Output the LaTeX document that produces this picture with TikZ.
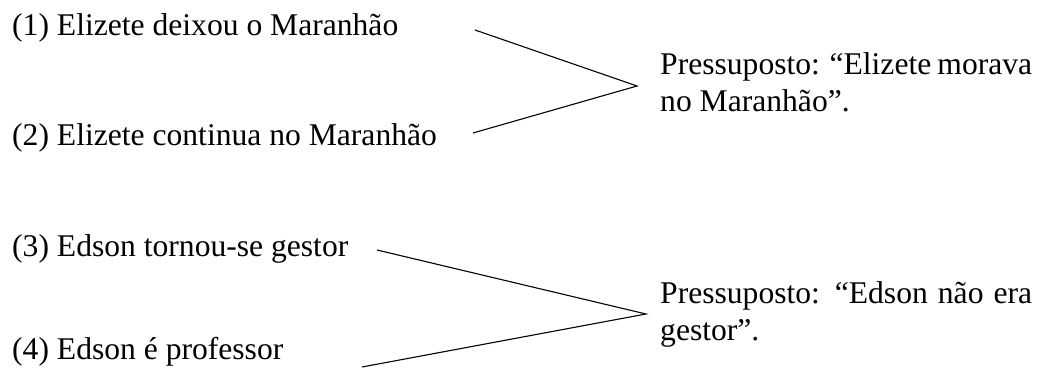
\documentclass[tikz,border=0pt]{standalone}
\usepackage{fontspec}
\setmainfont{Liberation Serif}
\begin{document}
\begin{tikzpicture}[x=1pt,y=-1pt,
  lefttext/.style={anchor=base west,inner sep=0pt,font=\fontsize{31.6}{37}\selectfont},
  righttext/.style={anchor=base west,inner sep=0pt},
  conn/.style={line width=1.1pt,black}]
\useasboundingbox (0,0) rectangle (1055,374);
\node[lefttext] (t1) at (12,36) {(1) Elizete deixou o Maranhão};
\node[lefttext] (t2) at (12,146) {(2) Elizete continua no Maranhão};
\node[lefttext] (t3) at (12,257) {(3) Edson tornou-se gestor};
\node[lefttext] (t4) at (12,359) {(4) Edson é professor};
\node[righttext] (p1) at (660,75) {\parbox[t]{372pt}{\fontsize{31.6}{37}\selectfont\hyphenpenalty=10000\relax Pressuposto: “Elizete morava no Maranhão”.}};
\node[righttext] (p2) at (660,303) {\parbox[t]{372pt}{\fontsize{31.6}{37}\selectfont\hyphenpenalty=10000\relax Pressuposto: “Edson não era gestor”.}};
\coordinate (s1) at (475,30);
\coordinate (s2) at (473,133);
\coordinate (a1) at (637,86);
\coordinate (s3) at (377,250);
\coordinate (s4) at (362,367);
\coordinate (a2) at (646,314);
\draw[conn] (s1) -- (a1) -- (s2);
\draw[conn] (s3) -- (a2) -- (s4);
\end{tikzpicture}
\end{document}
